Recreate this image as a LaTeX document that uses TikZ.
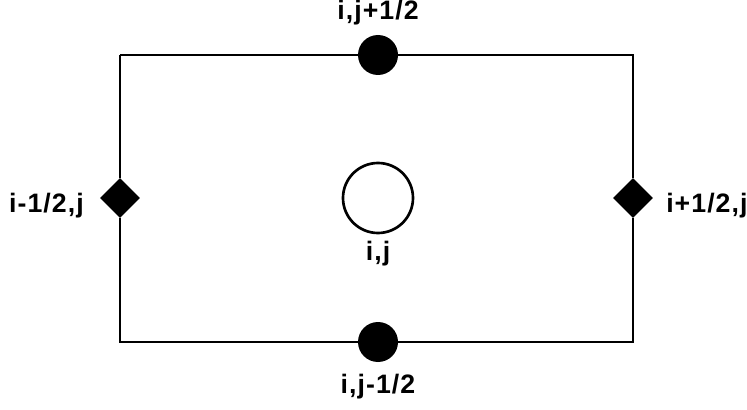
\documentclass[tikz,border=0pt]{standalone}
\usepackage{fontspec}
\setmainfont{Liberation Sans}
\usetikzlibrary{shapes.geometric, positioning}

\begin{document}
\begin{tikzpicture}[
    x=0.75pt, y=-0.75pt,
    edge/.style={line width=1.5pt},
    flux/.style={circle, fill=black, minimum size=30pt, inner sep=0pt},
    fluxd/.style={diamond, fill=black, minimum size=30pt, inner sep=0pt},
    cell/.style={draw, circle, line width=2pt, fill=white, minimum size=52.5pt, inner sep=0pt},
    lbl/.style={font=\bfseries\fontsize{20}{22}\selectfont\addfontfeature{LetterSpace=4}, inner sep=0pt}
]
\useasboundingbox (0,0) rectangle (747,410);

% corners of the cell
\coordinate (nw) at (120,55);
\coordinate (ne) at (633,55);
\coordinate (se) at (633,342);
\coordinate (sw) at (120,342);

\node[cell] (c) at (378,198) {};
\node[flux] (n) at (378,55) {};
\node[flux] (s) at (378,342) {};
\node[fluxd] (w) at (120,198) {};
\node[fluxd] (e) at (633,198) {};

\draw[edge] (nw) -- (n) -- (ne) -- (e) -- (se) -- (s) -- (sw) -- (w) -- (nw);

% labels of the points
\node[lbl, anchor=base] (nl) at (378,20) {i,j+1/2};
\node[lbl, anchor=base] (sl) at (378,393) {i,j-1/2};
\node[lbl, anchor=base] (cl) at (378,260) {i,j};
\node[lbl, anchor=base east] (wl) at (84,212) {i-1/2,j};
\node[lbl, anchor=base west] (el) at (666,212) {i+1/2,j};
\end{tikzpicture}
\end{document}
